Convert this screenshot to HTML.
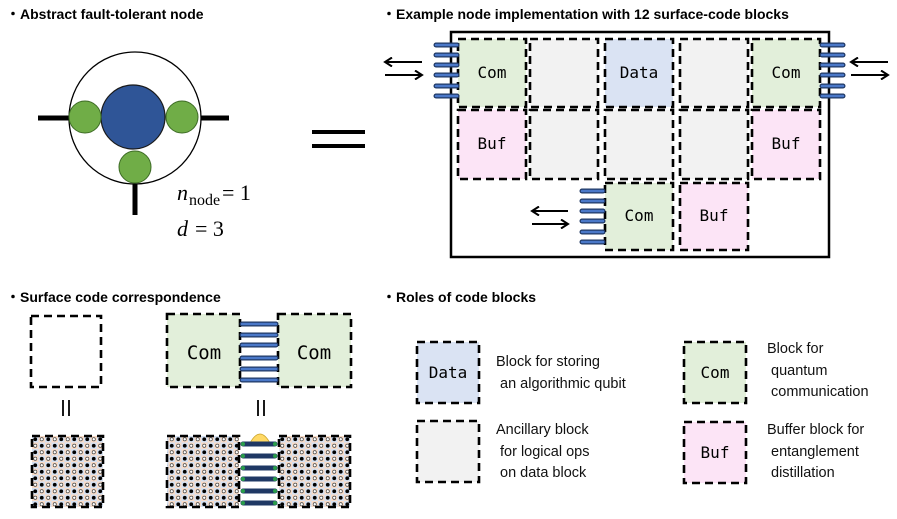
<!DOCTYPE html>
<html><head><meta charset="utf-8"><style>
html,body{margin:0;padding:0;background:#fff;}
svg{display:block;}
.s{font-family:"Liberation Sans",sans-serif;}
.h{font-family:"Liberation Sans",sans-serif;font-weight:bold;font-size:14px;}
.m, .m text{font-family:"DejaVu Sans Mono","Liberation Mono",monospace;font-size:16px;}
.t text{font-family:"Liberation Sans",sans-serif;font-size:14.5px;fill:#111;}
.serif{font-family:"Liberation Serif",serif;}
.db{stroke:#000;stroke-width:2.6;stroke-dasharray:8 5;}
.lad{stroke:#1f3864;stroke-width:5;stroke-linecap:round;}
.ladi{stroke:#4a78c8;stroke-width:2.5;stroke-linecap:round;}
</style></head><body>
<svg width="897" height="519" viewBox="0 0 897 519" xmlns="http://www.w3.org/2000/svg">
<defs>
<pattern id="lat" x="32" y="436" width="13" height="13" patternUnits="userSpaceOnUse">
<rect x="0" y="0" width="13" height="13" fill="#fff"/>
<rect x="0" y="0" width="6.5" height="6.5" fill="#d5e1f2"/>
<rect x="6.5" y="6.5" width="6.5" height="6.5" fill="#d5e1f2"/>
<rect x="6.5" y="0" width="6.5" height="6.5" fill="#f9dcc8"/>
<rect x="0" y="6.5" width="6.5" height="6.5" fill="#f9dcc8"/>
<circle cx="3.25" cy="3.25" r="1.9" fill="#000"/>
<circle cx="9.75" cy="9.75" r="1.9" fill="#000"/>
<circle cx="9.75" cy="3.25" r="1.6" fill="#fff" stroke="#444" stroke-width="0.7"/>
<circle cx="3.25" cy="9.75" r="1.6" fill="#fff" stroke="#444" stroke-width="0.7"/>
</pattern>
<marker id="ah" markerWidth="10" markerHeight="10" refX="8" refY="5" orient="auto" markerUnits="userSpaceOnUse">
<path d="M1,0.5 L8,5 L1,9.5" fill="none" stroke="#000" stroke-width="2"/>
</marker>
</defs>

<text x="6" y="19" class="h">・Abstract fault-tolerant node</text>
<text x="382" y="19" class="h">・Example node implementation with 12 surface-code blocks</text>
<text x="6" y="302" class="h">・Surface code correspondence</text>
<text x="382" y="302" class="h">・Roles of code blocks</text>

<line x1="38" y1="118" x2="72" y2="118" stroke="#000" stroke-width="5"/>
<line x1="196" y1="118" x2="229" y2="118" stroke="#000" stroke-width="5"/>
<line x1="135" y1="180" x2="135" y2="215" stroke="#000" stroke-width="5"/>
<circle cx="135" cy="118" r="66" fill="#fff" stroke="#000" stroke-width="1.3"/>
<circle cx="133" cy="117" r="32" fill="#2f5597" stroke="#1a1a1a" stroke-width="1.2"/>
<circle cx="85" cy="117" r="16" fill="#70ad47" stroke="#3d6b25" stroke-width="1"/>
<circle cx="182" cy="117" r="16" fill="#70ad47" stroke="#3d6b25" stroke-width="1"/>
<circle cx="135" cy="167" r="16" fill="#70ad47" stroke="#3d6b25" stroke-width="1"/>
<text x="177" y="200" class="serif" font-size="22" font-style="italic">n</text>
<text x="189" y="205" class="serif" font-size="16">node</text>
<text x="222" y="200" class="serif" font-size="22">= 1</text>
<text x="177" y="236" class="serif" font-size="22" font-style="italic">d</text>
<text x="195" y="236" class="serif" font-size="22">= 3</text>
<line x1="312" y1="132" x2="365" y2="132" stroke="#000" stroke-width="4"/>
<line x1="312" y1="146" x2="365" y2="146" stroke="#000" stroke-width="4"/>

<rect x="451" y="32" width="378" height="225" fill="#fff" stroke="#000" stroke-width="2.5"/>
<g class="db">
<rect x="458" y="39" width="68" height="68" fill="#e2efda"/>
<rect x="530" y="39" width="68" height="68" fill="#f2f2f2"/>
<rect x="605" y="39" width="68" height="68" fill="#dae3f3"/>
<rect x="680" y="39" width="68" height="68" fill="#f2f2f2"/>
<rect x="752" y="39" width="68" height="68" fill="#e2efda"/>
<rect x="458" y="110" width="68" height="69" fill="#fce4f6"/>
<rect x="530" y="110" width="68" height="69" fill="#f2f2f2"/>
<rect x="605" y="110" width="68" height="69" fill="#f2f2f2"/>
<rect x="680" y="110" width="68" height="69" fill="#f2f2f2"/>
<rect x="752" y="110" width="68" height="69" fill="#fce4f6"/>
<rect x="605" y="183" width="68" height="67" fill="#e2efda"/>
<rect x="680" y="183" width="68" height="67" fill="#fce4f6"/>
</g>
<g class="m" text-anchor="middle">
<text x="492" y="78">Com</text>
<text x="639" y="78">Data</text>
<text x="786" y="78">Com</text>
<text x="492" y="149">Buf</text>
<text x="786" y="149">Buf</text>
<text x="639" y="221">Com</text>
<text x="714" y="221">Buf</text>
</g>
<g class="lad"><line x1="436" y1="45" x2="457" y2="45"/><line x1="436" y1="55" x2="457" y2="55"/><line x1="436" y1="65" x2="457" y2="65"/><line x1="436" y1="75" x2="457" y2="75"/><line x1="436" y1="86" x2="457" y2="86"/><line x1="436" y1="96" x2="457" y2="96"/>
<line x1="822" y1="45" x2="843" y2="45"/><line x1="822" y1="55" x2="843" y2="55"/><line x1="822" y1="65" x2="843" y2="65"/><line x1="822" y1="75" x2="843" y2="75"/><line x1="822" y1="86" x2="843" y2="86"/><line x1="822" y1="96" x2="843" y2="96"/>
<line x1="582" y1="191" x2="603" y2="191"/><line x1="582" y1="201" x2="603" y2="201"/><line x1="582" y1="211" x2="603" y2="211"/><line x1="582" y1="221" x2="603" y2="221"/><line x1="582" y1="232" x2="603" y2="232"/><line x1="582" y1="242" x2="603" y2="242"/></g>
<g class="ladi"><line x1="436" y1="45" x2="457" y2="45"/><line x1="436" y1="55" x2="457" y2="55"/><line x1="436" y1="65" x2="457" y2="65"/><line x1="436" y1="75" x2="457" y2="75"/><line x1="436" y1="86" x2="457" y2="86"/><line x1="436" y1="96" x2="457" y2="96"/>
<line x1="822" y1="45" x2="843" y2="45"/><line x1="822" y1="55" x2="843" y2="55"/><line x1="822" y1="65" x2="843" y2="65"/><line x1="822" y1="75" x2="843" y2="75"/><line x1="822" y1="86" x2="843" y2="86"/><line x1="822" y1="96" x2="843" y2="96"/>
<line x1="582" y1="191" x2="603" y2="191"/><line x1="582" y1="201" x2="603" y2="201"/><line x1="582" y1="211" x2="603" y2="211"/><line x1="582" y1="221" x2="603" y2="221"/><line x1="582" y1="232" x2="603" y2="232"/><line x1="582" y1="242" x2="603" y2="242"/></g>
<g stroke="#000" stroke-width="2" marker-end="url(#ah)">
<line x1="422" y1="62" x2="385" y2="62"/><line x1="385" y1="75" x2="422" y2="75"/>
<line x1="888" y1="62" x2="851" y2="62"/><line x1="851" y1="75" x2="888" y2="75"/>
<line x1="568" y1="211" x2="532" y2="211"/><line x1="532" y1="224" x2="568" y2="224"/>
</g>

<rect x="31" y="316" width="70" height="71" fill="#fff" class="db"/>
<rect x="167" y="314" width="73" height="73" fill="#e2efda" class="db"/>
<rect x="278" y="314" width="73" height="73" fill="#e2efda" class="db"/>
<text x="204" y="359" class="m" style="font-size:19px" text-anchor="middle">Com</text>
<text x="314" y="359" class="m" style="font-size:19px" text-anchor="middle">Com</text>
<g class="lad"><line x1="242" y1="324" x2="276" y2="324"/><line x1="242" y1="335" x2="276" y2="335"/><line x1="242" y1="345" x2="276" y2="345"/><line x1="242" y1="358" x2="276" y2="358"/><line x1="242" y1="369" x2="276" y2="369"/><line x1="242" y1="380" x2="276" y2="380"/></g>
<g class="ladi"><line x1="242" y1="324" x2="276" y2="324"/><line x1="242" y1="335" x2="276" y2="335"/><line x1="242" y1="345" x2="276" y2="345"/><line x1="242" y1="358" x2="276" y2="358"/><line x1="242" y1="369" x2="276" y2="369"/><line x1="242" y1="380" x2="276" y2="380"/></g>
<g stroke="#000" stroke-width="1.8">
<line x1="63" y1="400" x2="63" y2="416"/><line x1="69" y1="400" x2="69" y2="416"/>
<line x1="258" y1="400" x2="258" y2="416"/><line x1="264" y1="400" x2="264" y2="416"/>
</g>
<rect x="32" y="436" width="71" height="71" fill="url(#lat)" class="db"/>
<rect x="167" y="436" width="72" height="71" fill="url(#lat)" class="db"/>
<rect x="279" y="436" width="71" height="71" fill="url(#lat)" class="db"/>
<path d="M250,443 Q260,425 270,443 Z" fill="#ffd966" stroke="#c9a227" stroke-width="0.8"/>
<g class="lad"><line x1="243" y1="444" x2="275" y2="444"/><line x1="243" y1="456" x2="275" y2="456"/><line x1="243" y1="468" x2="275" y2="468"/><line x1="243" y1="479" x2="275" y2="479"/><line x1="243" y1="491" x2="275" y2="491"/><line x1="243" y1="503" x2="275" y2="503"/></g>
<g fill="#2a9d4a">
<circle cx="243" cy="444" r="2"/><circle cx="275" cy="444" r="2"/><circle cx="243" cy="456" r="2"/><circle cx="275" cy="456" r="2"/><circle cx="243" cy="468" r="2"/><circle cx="275" cy="468" r="2"/><circle cx="243" cy="479" r="2"/><circle cx="275" cy="479" r="2"/><circle cx="243" cy="491" r="2"/><circle cx="275" cy="491" r="2"/><circle cx="243" cy="503" r="2"/><circle cx="275" cy="503" r="2"/>
</g>

<rect x="417" y="342" width="62" height="61" fill="#dae3f3" class="db"/>
<rect x="417" y="421" width="62" height="61" fill="#f2f2f2" class="db"/>
<rect x="684" y="342" width="62" height="61" fill="#e2efda" class="db"/>
<rect x="684" y="422" width="62" height="61" fill="#fce4f6" class="db"/>
<text x="448" y="378" class="m" text-anchor="middle">Data</text>
<text x="715" y="378" class="m" text-anchor="middle">Com</text>
<text x="715" y="458" class="m" text-anchor="middle">Buf</text>
<g class="t">
<text x="496" y="366">Block for storing</text>
<text x="500" y="388">an algorithmic qubit</text>
<text x="496" y="434">Ancillary block</text>
<text x="500" y="456">for logical ops</text>
<text x="500" y="477">on data block</text>
<text x="767" y="353">Block for</text>
<text x="771" y="375">quantum</text>
<text x="771" y="396">communication</text>
<text x="767" y="434">Buffer block for</text>
<text x="771" y="456">entanglement</text>
<text x="771" y="477">distillation</text>
</g>
</svg>
</body></html>
